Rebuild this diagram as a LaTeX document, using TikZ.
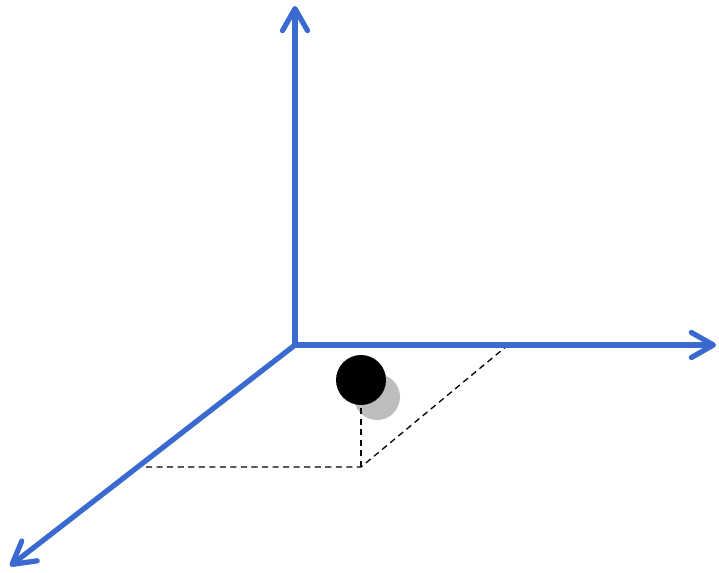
\documentclass[tikz,border=0pt]{standalone}
\usepackage{tikz}
\usetikzlibrary{arrows.meta}
\definecolor{axisblue}{HTML}{3A6AD0}
\definecolor{shadegray}{HTML}{BDBDBD}

\begin{document}
\begin{tikzpicture}[
  x=0.02cm, y=-0.02cm,
  axis/.style  = {draw=axisblue, line width=3pt, line cap=round,
                  -{Straight Barb[length=4.4mm, width=5mm, line cap=round, line join=round]}},
  guide/.style = {draw=black, line width=0.75pt, dash pattern=on 3.5pt off 2.5pt},
  ball/.style  = {circle, fill=black, minimum size=1cm, inner sep=0pt},
  shade/.style = {circle, fill=shadegray, minimum size=0.92cm, inner sep=0pt},
]
  \useasboundingbox (0,0) rectangle (719,572);

  % axes
  \coordinate (O)     at (295,345);
  \coordinate (up)    at (295,6);
  \coordinate (right) at (716,345);
  \coordinate (left)  at (10,566);

  % projection of the point
  \coordinate (P) at (361,467);
  \coordinate (A) at (146,467);
  \coordinate (B) at (508,345);

  \node[shade] (shadow) at (377,397) {};
  \node[ball]  (pt)     at (361,380) {};

  \draw[guide] (A) -- (P) -- (B);
  \draw[guide] (P) -- (pt.south);

  \draw[axis] (O) -- (up);
  \draw[axis] (O) -- (right);
  \draw[axis] (O) -- (left);
\end{tikzpicture}
\end{document}
